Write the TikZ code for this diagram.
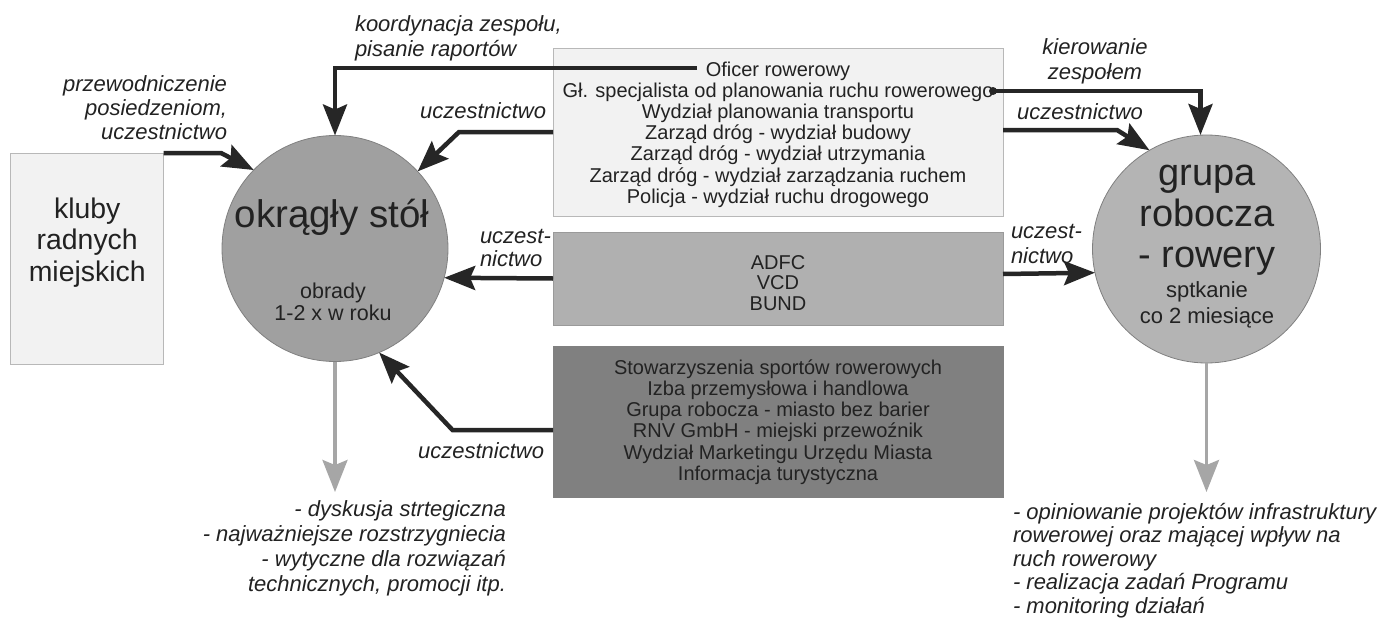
\documentclass[tikz,border=0pt]{standalone}
\usepackage{fontspec}
\setmainfont{Liberation Sans}
\usetikzlibrary{arrows.meta,calc}
\definecolor{txt}{HTML}{222222}
\definecolor{dark}{HTML}{262626}
\definecolor{cL}{HTML}{A0A0A0}
\definecolor{cR}{HTML}{B4B4B4}
\definecolor{cB}{HTML}{808080}
\definecolor{light}{HTML}{F2F2F2}
\definecolor{lightB}{HTML}{B8B8B8}
\definecolor{midG}{HTML}{B0B0B0}
\definecolor{midB}{HTML}{9A9A9A}
\definecolor{darkG}{HTML}{808080}
\definecolor{arrG}{HTML}{A6A6A6}
\newcommand{\mlines}[2]{\begin{tabular}[t]{@{}#1@{}}#2\end{tabular}}
\begin{document}
\begin{tikzpicture}[x=1pt,y=-1pt,
  every node/.style={inner sep=0pt,outer sep=0pt,text=txt},
  lightbox/.style={rectangle,draw=lightB,fill=light,line width=0.8pt},
  circ/.style={circle,draw=cB,line width=0.8pt},
  darr/.style={draw=dark,line width=4.5pt,-{Stealth[length=31pt,width=24pt,inset=5pt]}},
  garr/.style={draw=arrG,line width=3.3pt,-{Stealth[length=32pt,width=25pt,inset=5pt]}},
  lab/.style={font=\itshape\fontsize{22}{#1}\selectfont},
  lab/.default=25,
  boxtxt/.style={font=\fontsize{20}{#1}\selectfont,anchor=base},
  boxtxt/.default=21.2]
\useasboundingbox (0,0) rectangle (1385,621);

% boxes
\node[lightbox,minimum width=153pt,minimum height=211pt] (kluby) at (87.2,258.5) {};
\node[font=\fontsize{28.4}{31.5}\selectfont,anchor=base] (klubyt) at (87.2,218) {\mlines{c}{kluby\\radnych\\miejskich}};

\node[lightbox,minimum width=450pt,minimum height=168pt] (topb) at (778,132) {};
\node[boxtxt] (topt) at (778,76) {\mlines{c}{Oficer rowerowy\\Gł. specjalista od planowania ruchu rowerowego\\Wydział planowania transportu\\Zarząd dróg - wydział budowy\\Zarząd dróg - wydział utrzymania\\Zarząd dróg - wydział zarządzania ruchem\\Policja - wydział ruchu drogowego}};

\node[rectangle,draw=midB,fill=midG,line width=0.8pt,minimum width=450pt,minimum height=93pt] (adfc) at (778,278.5) {};
\node[boxtxt=20.5] (adfct) at (778,269) {\mlines{c}{ADFC\\VCD\\BUND}};

\node[rectangle,draw=darkG,fill=darkG,line width=0.8pt,minimum width=450pt,minimum height=151pt] (botb) at (778,421.5) {};
\node[boxtxt=21.3] (bott) at (778,374) {\mlines{c}{Stowarzyszenia sportów rowerowych\\Izba przemysłowa i handlowa\\Grupa robocza - miasto bez barier\\RNV GmbH - miejski przewoźnik\\Wydział Marketingu Urzędu Miasta\\Informacja turystyczna}};

% circles
\node[circ,fill=cL,minimum size=226pt] (okr) at (335,248.5) {};
\node[font=\fontsize{38.5}{40}\selectfont,anchor=base] (okrt) at (332,227) {okrągły stół};
\node[font=\fontsize{21.5}{22}\selectfont,anchor=base] (obr) at (333,298) {\mlines{c}{obrady\\1-2 x w roku}};

\node[circ,fill=cR,minimum size=228pt] (grp) at (1206.5,249) {};
\node[font=\fontsize{38}{41}\selectfont,anchor=base] (grpt) at (1207,185) {\mlines{c}{grupa\\robocza\\- rowery}};
\node[font=\fontsize{22}{26}\selectfont,anchor=base] (grps) at (1207,297) {\mlines{c}{sptkanie\\co 2 miesiące}};

% dark arrows
\coordinate (ofc) at (697,68);
\draw[darr] (ofc) -| (okr.north);
\draw[darr] (topb.west) -- (459,132) -- (okr.43);
\draw[darr] (kluby.north east) -- (221,153) -- (okr.136);
\draw[darr] (adfc.west) -- (okr.-15.4);
\draw[darr] ($(botb.west)+(0,8.5)$) -- (452.5,430) -- (okr.-67);
\coordinate (kd) at (993,91);
\fill[dark] (kd) circle (4pt);
\draw[darr] (kd) -| ($(grp.north)+(-6,0)$);
\draw[darr] ($(topb.east)+(0,-2)$) -- (1117,130) -- (grp.120);
\draw[darr] ($(adfc.east)+(0,-4.5)$) -- (grp.192.7);

% gray arrows
\coordinate (lo) at (335,492);
\coordinate (ro) at (1206.5,492);
\draw[garr] (okr.south) -- (lo);
\draw[garr] (grp.south) -- (ro);

% labels
\node[lab,anchor=base west] (l1) at (355,31) {\mlines{l}{koordynacja zespołu,\\pisanie raportów}};
\node[lab=24,anchor=base east] (l2) at (227,91) {\mlines{r}{przewodniczenie\\posiedzeniom,\\uczestnictwo}};
\node[lab,anchor=base east] (l3) at (546,118) {uczestnictwo};
\node[lab=23,anchor=base west] (l4) at (480,243) {\mlines{l}{uczest-\\nictwo}};
\node[lab,anchor=base east] (l5) at (544,458) {uczestnictwo};
\node[lab,anchor=base] (l6) at (1095,54) {\mlines{c}{kierowanie\\zespołem}};
\node[lab,anchor=base] (l7) at (1080,119) {uczestnictwo};
\node[lab,anchor=base west] (l8) at (1011,238) {\mlines{l}{uczest-\\nictwo}};
\node[lab,anchor=base east] (l9) at (506,516) {\mlines{r}{- dyskusja strtegiczna\\- najważniejsze rozstrzygniecia\\- wytyczne dla rozwiązań\\technicznych, promocji itp.}};
\node[lab=23.5,anchor=base west] (l10) at (1013,519) {\mlines{l}{- opiniowanie projektów infrastruktury\\rowerowej oraz mającej wpływ na\\ruch rowerowy\\- realizacja zadań Programu\\- monitoring działań}};
\end{tikzpicture}
\end{document}
